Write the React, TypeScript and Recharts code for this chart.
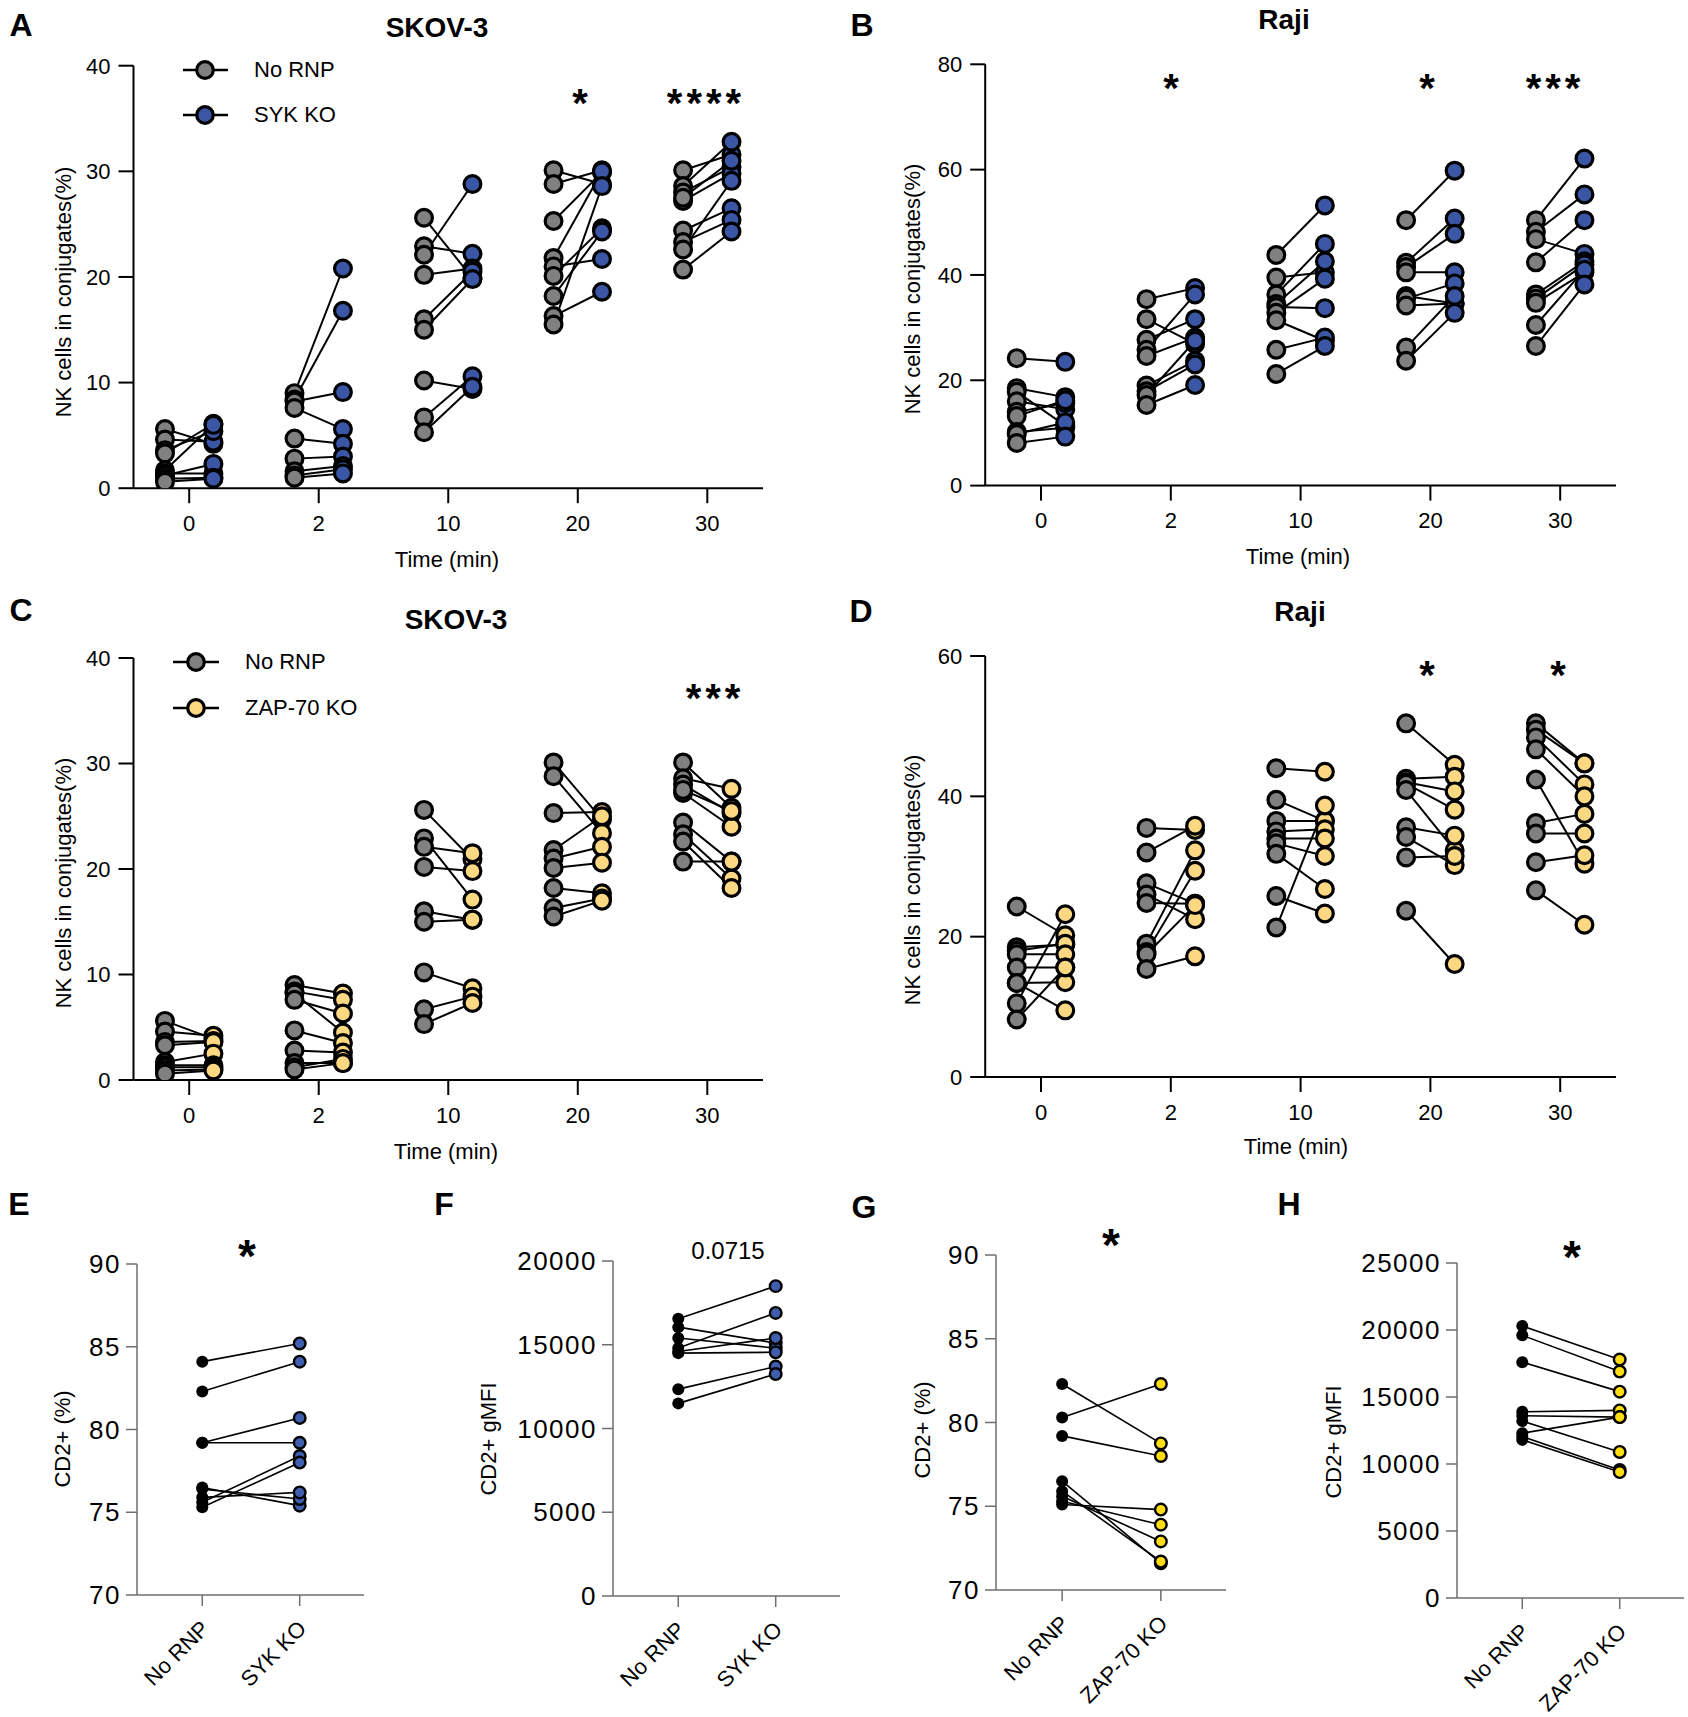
import React from 'react';
import { ScatterChart, Scatter, XAxis, YAxis } from 'recharts';

const FONT = '"Liberation Sans", Arial, Helvetica, sans-serif';

// ---------- data ----------
const timeLabels = ['0', '2', '10', '20', '30'];

// SKOV-3, No RNP (panels A and C); rows = time points, columns = donors
const skovNoRnp = [
  [5.6, 4.6, 3.6, 3.3, 1.7, 1.4, 1.2, 0.9, 0.6],
  [9.0, 8.4, 8.2, 7.6, 4.7, 2.8, 1.6, 1.2, 1.0],
  [25.6, 22.9, 22.1, 20.2, 16.0, 15.0, 10.2, 6.7, 5.3],
  [30.1, 28.8, 25.3, 21.8, 21.0, 20.1, 18.2, 16.3, 15.5],
  [30.1, 28.6, 28.0, 27.2, 24.4, 23.3, 22.6, 20.7, 27.5],
];
const skovSykKo = [
  [4.2, 4.4, 5.4, 6.1, 6.0, 1.4, 2.3, 1.0, 0.9],
  [20.8, 16.8, 9.1, 5.6, 4.2, 3.0, 2.1, 1.8, 1.4],
  [19.9, 22.2, 28.8, 20.8, 20.5, 19.8, 9.4, 10.6, 9.6],
  [28.8, 30.1, 29.9, 30.0, 21.7, 24.6, 24.3, 18.6, 28.6],
  [31.6, 32.8, 30.4, 29.8, 26.5, 25.4, 29.1, 24.3, 31.0],
];
const skovZapKo = [
  [3.9, 4.2, 3.7, 3.6, 2.5, 1.4, 1.2, 1.0, 0.9],
  [8.2, 7.6, 4.5, 6.3, 3.5, 2.6, 1.6, 2.0, 1.6],
  [20.9, 17.1, 21.5, 19.8, 15.2, 15.2, 8.7, 7.9, 7.3],
  [24.7, 23.4, 25.4, 25.0, 22.1, 20.6, 17.7, 17.2, 17.0],
  [25.8, 27.6, 25.3, 24.0, 20.7, 19.1, 18.2, 20.7, 25.5],
];

// Raji, No RNP (panel B) and SYK KO
const rajiNoRnpB = [
  [24.2, 18.5, 17.8, 16.0, 14.0, 13.2, 10.2, 9.8, 8.1],
  [35.4, 31.6, 27.7, 25.8, 24.6, 19.0, 17.9, 17.2, 15.3],
  [43.8, 39.5, 36.3, 34.5, 33.9, 32.8, 31.4, 25.8, 21.2],
  [50.4, 42.3, 41.5, 40.5, 36.0, 35.5, 34.2, 26.2, 23.7],
  [50.4, 48.2, 46.8, 42.4, 36.3, 35.5, 34.7, 30.5, 26.5],
];
const rajiSykKo = [
  [23.5, 16.8, 11.4, 14.5, 15.7, 16.2, 11.0, 12.0, 9.3],
  [37.5, 26.9, 31.6, 36.3, 28.1, 23.7, 23.0, 27.5, 19.1],
  [53.2, 40.5, 45.9, 42.6, 33.7, 39.3, 27.5, 28.1, 26.5],
  [59.8, 50.7, 47.8, 40.5, 34.6, 38.4, 34.6, 36.0, 32.8],
  [62.1, 55.3, 44.0, 50.4, 42.6, 42.0, 40.5, 41.0, 38.2],
];

// Raji, No RNP (panel D) and ZAP-70 KO
const rajiNoRnpD = [
  [24.3, 18.5, 18.0, 17.5, 15.6, 13.4, 13.4, 10.5, 8.2],
  [35.5, 32.0, 27.6, 26.0, 24.8, 19.0, 17.8, 17.5, 15.4],
  [44.0, 39.5, 36.5, 35.0, 34.0, 33.3, 31.8, 25.8, 21.3],
  [50.4, 42.5, 42.0, 41.8, 40.9, 35.6, 34.2, 31.3, 23.7],
  [50.4, 49.5, 48.4, 46.7, 42.4, 36.2, 34.7, 30.6, 26.6],
];
const rajiZapKo = [
  [20.2, 18.9, 19.0, 17.5, 15.6, 9.5, 13.5, 23.2, 15.6],
  [35.2, 35.8, 24.7, 22.5, 24.7, 32.3, 29.4, 24.5, 17.2],
  [43.5, 36.5, 36.5, 35.3, 34.0, 31.5, 26.8, 23.3, 38.7],
  [44.5, 42.8, 40.7, 38.1, 32.3, 34.4, 30.2, 31.5, 16.1],
  [44.7, 44.7, 41.7, 40.0, 30.4, 37.5, 34.7, 31.6, 21.7],
];

// CD2 panels
const sykCats = ['No RNP', 'SYK KO'];
const zapCats = ['No RNP', 'ZAP-70 KO'];
const cd2PctSykNoRnp = [84.1, 82.3, 79.2, 79.2, 76.5, 76.4, 75.9, 75.6, 75.3];
const cd2PctSykKo = [85.2, 84.1, 80.7, 79.2, 75.4, 75.8, 76.2, 78.4, 78.0];
const cd2MfiSykNoRnp = [16550, 16050, 15400, 14800, 14600, 14500, 12350, 11500];
const cd2MfiSykKo = [18500, 15100, 14800, 16900, 15400, 14550, 13700, 13250];
const cd2PctZapNoRnp = [82.3, 80.3, 79.2, 76.5, 75.9, 75.6, 75.3, 75.1];
const cd2PctZapKo = [78.75, 82.3, 78.0, 71.6, 71.7, 72.9, 73.9, 74.8];
const cd2MfiZapNoRnp = [20300, 19600, 17600, 13900, 13600, 13200, 12300, 12050, 11800];
const cd2MfiZapKo = [17800, 16900, 15400, 14000, 13500, 10900, 13500, 9550, 9400];

// ---------- colours ----------
const GREY = '#808080';
const BLUE = '#3A56A5';
const LYELLOW = '#FDD882';
const BLUE2 = '#3F5FAE';
const YELLOW2 = '#FFDD10';

type Box = { left: number; top: number; width: number; height: number };
type Plot = { l: number; r: number; t: number; b: number };
type Pt = { x: number; y: number };

interface PanelProps {
  box: Box;
  plot: Plot;
  groupX: number[];
  offset: number;
  xDomain: [number, number];
  xTicks: number[];
  yDomain: [number, number];
  yTicks: number[];
  leftVals: number[][];
  rightVals: number[][];
  leftFill: string;
  rightFill: string;
  leftR: number;
  rightR: number;
  leftSW: number;
  rightSW: number;
  lineWidth: number;
  axisColor: string;
  axisWidth: number;
  tickSize: number;
  xTickMargin: number;
  yTickMargin: number;
  tickFontSize: number;
  tickLetterSpacing?: number;
  xLabels?: string[];
  catLabels?: string[];
}

const EmptyShape = () => <g />;

function PairPanel(p: PanelProps) {
  const segs: Pt[][] = [];
  const lefts: Pt[] = [];
  const rights: Pt[] = [];
  p.groupX.forEach((gx, gi) => {
    p.leftVals[gi].forEach((v, di) => {
      const a = { x: gx - p.offset, y: v };
      const b = { x: gx + p.offset, y: p.rightVals[gi][di] };
      segs.push([a, b]);
      lefts.push(a);
      rights.push(b);
    });
  });
  const margin = {
    top: p.plot.t - p.box.top,
    right: p.box.left + p.box.width - p.plot.r,
    bottom: 0,
    left: 0,
  };
  const yW = p.plot.l - p.box.left;
  const xH = p.box.top + p.box.height - p.plot.b;
  const tickStyle = {
    fontSize: p.tickFontSize,
    fill: '#000',
    fontFamily: FONT,
    letterSpacing: p.tickLetterSpacing || 0,
  };
  const cat = p.catLabels;
  const xTick = cat
    ? (tp: any) => (
        <text
          transform={`translate(${tp.x + 8},${tp.y + 24}) rotate(-45)`}
          textAnchor="end"
          fontSize={22}
          fontFamily={FONT}
          fill="#000"
        >
          {cat[Math.round(tp.payload.value)]}
        </text>
      )
    : tickStyle;
  return (
    <div style={{ position: 'absolute', left: p.box.left, top: p.box.top, width: p.box.width, height: p.box.height }}>
      <ScatterChart width={p.box.width} height={p.box.height} margin={margin}>
        <XAxis
          type="number"
          dataKey="x"
          domain={p.xDomain}
          ticks={p.xTicks}
          allowDataOverflow
          interval={0}
          height={xH}
          tickSize={p.tickSize}
          tickMargin={p.xTickMargin}
          axisLine={{ stroke: p.axisColor, strokeWidth: p.axisWidth }}
          tickLine={{ stroke: p.axisColor, strokeWidth: p.axisWidth }}
          tick={xTick as any}
          tickFormatter={p.xLabels ? (v: number) => p.xLabels![Math.round(v)] : undefined}
        />
        <YAxis
          type="number"
          dataKey="y"
          domain={p.yDomain}
          ticks={p.yTicks}
          allowDataOverflow
          interval={0}
          width={yW}
          tickSize={p.tickSize}
          tickMargin={p.yTickMargin}
          axisLine={{ stroke: p.axisColor, strokeWidth: p.axisWidth }}
          tickLine={{ stroke: p.axisColor, strokeWidth: p.axisWidth }}
          tick={tickStyle}
        />
        {segs.map((s, i) => (
          <Scatter
            key={'seg' + i}
            data={s}
            line={{ stroke: '#000', strokeWidth: p.lineWidth }}
            shape={EmptyShape}
            isAnimationActive={false}
            legendType="none"
          />
        ))}
        <Scatter
          data={lefts}
          isAnimationActive={false}
          legendType="none"
          shape={(sp: any) => (
            <circle cx={sp.cx} cy={sp.cy} r={p.leftR} fill={p.leftFill} stroke="#000" strokeWidth={p.leftSW} />
          )}
        />
        <Scatter
          data={rights}
          isAnimationActive={false}
          legendType="none"
          shape={(sp: any) => (
            <circle cx={sp.cx} cy={sp.cy} r={p.rightR} fill={p.rightFill} stroke="#000" strokeWidth={p.rightSW} />
          )}
        />
      </ScatterChart>
    </div>
  );
}

function Txt(props: {
  x: number;
  y: number;
  size: number;
  bold?: boolean;
  rotate?: number;
  spacing?: number;
  children: React.ReactNode;
}) {
  return (
    <div
      style={{
        position: 'absolute',
        left: props.x,
        top: props.y,
        transform: `translate(-50%, -50%) rotate(${props.rotate || 0}deg)`,
        fontFamily: FONT,
        fontSize: props.size,
        fontWeight: props.bold ? 700 : 400,
        lineHeight: 1,
        whiteSpace: 'nowrap',
        color: '#000',
        letterSpacing: props.spacing || 0,
        paddingLeft: props.spacing || 0,
      }}
    >
      {props.children}
    </div>
  );
}

function LegendRow(props: { x1: number; x2: number; cx: number; y: number; tx: number; fill: string; label: string }) {
  return (
    <>
      <svg
        style={{ position: 'absolute', left: 0, top: props.y - 15, overflow: 'visible' }}
        width={props.x2 + 20}
        height={30}
      >
        <line x1={props.x1} x2={props.x2} y1={15} y2={15} stroke="#000" strokeWidth={2.5} />
        <circle cx={props.cx} cy={15} r={8.3} fill={props.fill} stroke="#000" strokeWidth={3.2} />
      </svg>
      <div
        style={{
          position: 'absolute',
          left: props.tx,
          top: props.y,
          transform: 'translateY(-50%)',
          fontFamily: FONT,
          fontSize: 22,
          lineHeight: 1,
          whiteSpace: 'nowrap',
        }}
      >
        {props.label}
      </div>
    </>
  );
}

const timeCommon = {
  groupX: [0, 1, 2, 3, 4],
  offset: 0.187,
  xDomain: [-0.43, 4.43] as [number, number],
  xTicks: [0, 1, 2, 3, 4],
  leftFill: GREY,
  leftR: 8.4,
  rightR: 8.4,
  leftSW: 3.2,
  rightSW: 3.2,
  lineWidth: 2,
  axisColor: '#000',
  axisWidth: 2,
  tickSize: 15,
  xTickMargin: 12,
  yTickMargin: 8,
  tickFontSize: 22,
  xLabels: timeLabels,
};

const cdCommon = {
  groupX: [0.5],
  offset: 0.5,
  xDomain: [-0.67, 1.66] as [number, number],
  xTicks: [0, 1],
  leftFill: '#000',
  leftR: 6,
  rightR: 5.8,
  leftSW: 0,
  rightSW: 2.4,
  lineWidth: 1.6,
  axisColor: '#6e6e6e',
  axisWidth: 1.5,
  tickSize: 11,
  xTickMargin: 0,
  yTickMargin: 5,
  tickFontSize: 26,
  tickLetterSpacing: 1.5,
};

export default function App() {
  return (
    <div style={{ position: 'absolute', left: 0, top: 0, width: 1688, height: 1717, background: '#fff', overflow: 'hidden' }}>
      {/* Panel A */}
      <PairPanel
        {...timeCommon}
        box={{ left: 0, top: 0, width: 780, height: 580 }}
        plot={{ l: 133.5, r: 763, t: 65.7, b: 488.2 }}
        yDomain={[0, 40]}
        yTicks={[0, 10, 20, 30, 40]}
        leftVals={skovNoRnp}
        rightVals={skovSykKo}
        rightFill={BLUE}
      />
      {/* Panel B */}
      <PairPanel
        {...timeCommon}
        box={{ left: 840, top: 0, width: 848, height: 580 }}
        plot={{ l: 985.2, r: 1616, t: 64.3, b: 485.6 }}
        yDomain={[0, 80]}
        yTicks={[0, 20, 40, 60, 80]}
        leftVals={rajiNoRnpB}
        rightVals={rajiSykKo}
        rightFill={BLUE}
      />
      {/* Panel C */}
      <PairPanel
        {...timeCommon}
        box={{ left: 0, top: 590, width: 780, height: 580 }}
        plot={{ l: 133.5, r: 763, t: 658, b: 1080 }}
        yDomain={[0, 40]}
        yTicks={[0, 10, 20, 30, 40]}
        leftVals={skovNoRnp}
        rightVals={skovZapKo}
        rightFill={LYELLOW}
      />
      {/* Panel D */}
      <PairPanel
        {...timeCommon}
        box={{ left: 840, top: 590, width: 848, height: 580 }}
        plot={{ l: 985.2, r: 1616, t: 656, b: 1077 }}
        yDomain={[0, 60]}
        yTicks={[0, 20, 40, 60]}
        leftVals={rajiNoRnpD}
        rightVals={rajiZapKo}
        rightFill={LYELLOW}
      />
      {/* Panel E */}
      <PairPanel
        {...cdCommon}
        box={{ left: 0, top: 1180, width: 420, height: 537 }}
        plot={{ l: 137, r: 364, t: 1264, b: 1595 }}
        yDomain={[70, 90]}
        yTicks={[70, 75, 80, 85, 90]}
        leftVals={[cd2PctSykNoRnp]}
        rightVals={[cd2PctSykKo]}
        rightFill={BLUE2}
        catLabels={sykCats}
      />
      {/* Panel F */}
      <PairPanel
        {...cdCommon}
        box={{ left: 420, top: 1180, width: 420, height: 537 }}
        plot={{ l: 613, r: 840, t: 1261, b: 1596 }}
        yDomain={[0, 20000]}
        yTicks={[0, 5000, 10000, 15000, 20000]}
        leftVals={[cd2MfiSykNoRnp]}
        rightVals={[cd2MfiSykKo]}
        rightFill={BLUE2}
        catLabels={sykCats}
      />
      {/* Panel G */}
      <PairPanel
        {...cdCommon}
        box={{ left: 840, top: 1180, width: 420, height: 537 }}
        plot={{ l: 996, r: 1226, t: 1255, b: 1590 }}
        yDomain={[70, 90]}
        yTicks={[70, 75, 80, 85, 90]}
        leftVals={[cd2PctZapNoRnp]}
        rightVals={[cd2PctZapKo]}
        rightFill={YELLOW2}
        catLabels={zapCats}
      />
      {/* Panel H */}
      <PairPanel
        {...cdCommon}
        box={{ left: 1260, top: 1180, width: 428, height: 537 }}
        plot={{ l: 1457, r: 1684, t: 1263, b: 1598 }}
        yDomain={[0, 25000]}
        yTicks={[0, 5000, 10000, 15000, 20000, 25000]}
        leftVals={[cd2MfiZapNoRnp]}
        rightVals={[cd2MfiZapKo]}
        rightFill={YELLOW2}
        catLabels={zapCats}
      />

      {/* Panel letters */}
      <Txt x={21} y={25} size={32} bold>A</Txt>
      <Txt x={862} y={25} size={32} bold>B</Txt>
      <Txt x={21} y={610} size={32} bold>C</Txt>
      <Txt x={861} y={611} size={32} bold>D</Txt>
      <Txt x={19} y={1204} size={32} bold>E</Txt>
      <Txt x={444} y={1204} size={32} bold>F</Txt>
      <Txt x={864} y={1207} size={32} bold>G</Txt>
      <Txt x={1289} y={1204} size={32} bold>H</Txt>

      {/* Titles */}
      <Txt x={437} y={28} size={28} bold>SKOV-3</Txt>
      <Txt x={1284} y={19.5} size={28} bold>Raji</Txt>
      <Txt x={456} y={620} size={28} bold>SKOV-3</Txt>
      <Txt x={1300} y={612} size={28} bold>Raji</Txt>

      {/* Axis titles */}
      <Txt x={64} y={292} size={22} rotate={-90}>NK cells in conjugates(%)</Txt>
      <Txt x={913} y={289} size={22} rotate={-90}>NK cells in conjugates(%)</Txt>
      <Txt x={64} y={883} size={22} rotate={-90}>NK cells in conjugates(%)</Txt>
      <Txt x={913} y={880} size={22} rotate={-90}>NK cells in conjugates(%)</Txt>
      <Txt x={447} y={560} size={22}>Time (min)</Txt>
      <Txt x={1298} y={557} size={22}>Time (min)</Txt>
      <Txt x={446} y={1152} size={22}>Time (min)</Txt>
      <Txt x={1296} y={1147} size={22}>Time (min)</Txt>
      <Txt x={63} y={1439} size={22} rotate={-90}>CD2+ (%)</Txt>
      <Txt x={489} y={1439} size={22} rotate={-90}>CD2+ gMFI</Txt>
      <Txt x={923} y={1430} size={22} rotate={-90}>CD2+ (%)</Txt>
      <Txt x={1334} y={1442} size={22} rotate={-90}>CD2+ gMFI</Txt>

      {/* Significance marks */}
      <Txt x={580} y={103} size={40} bold>*</Txt>
      <Txt x={704} y={103} size={40} bold spacing={4}>****</Txt>
      <Txt x={1171} y={87.5} size={40} bold>*</Txt>
      <Txt x={1427} y={87.5} size={40} bold>*</Txt>
      <Txt x={1553} y={87.5} size={40} bold spacing={4}>***</Txt>
      <Txt x={713} y={698} size={40} bold spacing={4}>***</Txt>
      <Txt x={1427} y={675} size={40} bold>*</Txt>
      <Txt x={1558} y={675} size={40} bold>*</Txt>
      <Txt x={247} y={1256} size={46} bold>*</Txt>
      <Txt x={728} y={1251} size={24}>0.0715</Txt>
      <Txt x={1111} y={1245} size={46} bold>*</Txt>
      <Txt x={1572} y={1257} size={46} bold>*</Txt>

      {/* Legends */}
      <LegendRow x1={183} x2={228} cx={205} y={70.4} tx={254} fill={GREY} label="No RNP" />
      <LegendRow x1={183} x2={228} cx={205} y={114.8} tx={254} fill={BLUE} label="SYK KO" />
      <LegendRow x1={173} x2={219} cx={196} y={662} tx={245} fill={GREY} label="No RNP" />
      <LegendRow x1={173} x2={219} cx={196} y={708} tx={245} fill={LYELLOW} label="ZAP-70 KO" />
    </div>
  );
}
